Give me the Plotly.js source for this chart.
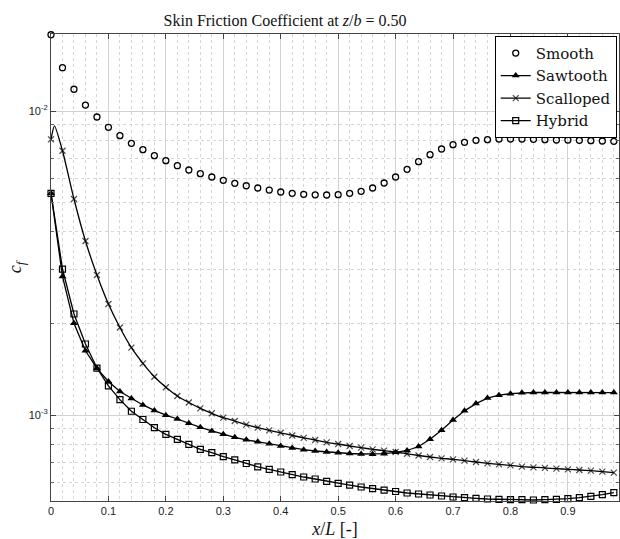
<!DOCTYPE html>
<html>
<head>
<meta charset="utf-8">
<script src="https://cdn.plot.ly/plotly-3.0.1.min.js"></script>
<style>html,body{margin:0;padding:0;background:#fff;}#chart{width:620px;height:539px;}</style>
</head>
<body>
<div id="chart"></div>
<script>
const xPos = [0,0.02,0.04,0.06,0.08,0.1,0.12,0.14,0.16,0.18,0.2,0.22,0.24,0.26,0.28,0.3,0.32,0.34,0.36,0.38,0.4,0.42,0.44,0.46,0.48,0.5,0.52,0.54,0.56,0.58,0.6,0.62,0.64,0.66,0.68,0.7,0.72,0.74,0.76,0.78,0.8,0.82,0.84,0.86,0.88,0.9,0.92,0.94,0.96,0.98];

const smooth = [0.01782,0.01388,0.01179,0.01046,0.009556,0.008840,0.008293,0.007829,0.007460,0.007128,
  0.006863,0.006607,0.006396,0.006219,0.006065,0.005915,0.005782,0.005678,0.005580,0.005496,
  0.005414,0.005361,0.005321,0.005301,0.005293,0.005305,0.005361,0.005443,0.005580,0.005796,
  0.006065,0.006430,0.006811,0.007182,0.007499,0.007747,0.007889,0.008010,0.008046,0.008089,
  0.008089,0.008089,0.008071,0.008046,0.008028,0.008028,0.008010,0.007986,0.007968,0.007950];

const sawtooth = [0.005362,0.002855,0.002003,0.001627,0.001424,0.001289,0.001195,0.001133,0.001079,0.001035,
  0.0009985,0.0009702,0.0009391,0.0009110,0.0008859,0.0008640,0.0008446,0.0008288,0.0008163,0.0008040,
  0.0007907,0.0007788,0.0007689,0.0007614,0.0007556,0.0007510,0.0007471,0.0007443,0.0007431,0.0007460,
  0.0007539,0.0007643,0.0007877,0.0008319,0.0008906,0.0009628,0.001032,0.001090,0.001137,0.001162,
  0.001175,0.001183,0.001186,0.001186,0.001186,0.001186,0.001186,0.001186,0.001186,0.001185];

const hybrid = [0.005362,0.003021,0.002149,0.001712,0.001427,0.001246,0.001123,0.001029,0.0009665,0.0009083,
  0.0008640,0.0008319,0.0008010,0.0007712,0.0007516,0.0007292,0.0007122,0.0006926,0.0006755,0.0006628,
  0.0006494,0.0006362,0.0006252,0.0006158,0.0006052,0.0005961,0.0005876,0.0005796,0.0005722,0.0005657,
  0.0005602,0.0005539,0.0005497,0.0005456,0.0005414,0.0005374,0.0005345,0.0005321,0.0005293,0.0005281,
  0.0005265,0.0005265,0.0005253,0.0005265,0.0005281,0.0005305,0.0005345,0.0005402,0.0005468,0.0005551];

const scallopedX = [0,0.006,0.02,0.04,0.06,0.08,0.1,0.12,0.14,0.16,0.18,0.2,0.22,0.24,0.26,0.28,0.3,0.32,0.34,0.36,0.38,0.4,0.42,0.44,0.46,0.48,0.5,0.52,0.54,0.56,0.58,0.6,0.62,0.64,0.66,0.68,0.7,0.72,0.74,0.76,0.78,0.8,0.82,0.84,0.86,0.88,0.9,0.92,0.94,0.96,0.98];
const scalloped = [0.00807,0.00894,0.00740,0.005135,0.003736,0.002887,0.002318,0.001940,0.001665,0.001479,0.001336,
  0.001234,0.001155,0.001099,0.001052,0.001013,0.0009798,0.0009556,0.0009292,0.0009083,0.0008906,
  0.0008739,0.0008562,0.0008414,0.0008275,0.0008132,0.0008028,0.0007907,0.0007806,0.0007712,0.0007631,
  0.0007556,0.0007454,0.0007358,0.0007275,0.0007204,0.0007149,0.0007074,0.0007005,0.0006936,0.0006884,
  0.0006832,0.0006760,0.0006729,0.0006703,0.0006658,0.0006628,0.0006593,0.0006558,0.0006509,0.0006460];
const scallopedShown = scallopedX.map(v => (v === 0.006 ? 0 : 6));

const seriesNames = ['Smooth','Sawtooth','Scalloped','Hybrid'];
const xTickVals = [0,0.1,0.2,0.3,0.4,0.5,0.6,0.7,0.8,0.9];
const xTickText = ['0','0.1','0.2','0.3','0.4','0.5','0.6','0.7','0.8','0.9'];
const yTickVals = [0.001,0.01];
const yTickText = ['10<sup>-3</sup>','10<sup>-2</sup>'];
const yMinorVals = [0.0006,0.0007,0.0008,0.0009,0.002,0.003,0.004,0.005,0.006,0.007,0.008,0.009];

const serif = "'Liberation Serif', 'Times New Roman', serif";
const legendSerif = "'DejaVu Serif', serif";
const sans = "'Liberation Sans', Arial, sans-serif";

const traces = [
  {x:xPos, y:smooth, name:seriesNames[0], mode:'markers', cliponaxis:false,
   marker:{symbol:'circle-open', size:6, color:'#000', line:{width:1.3,color:'#000'}}},
  {x:xPos, y:sawtooth, name:seriesNames[1], mode:'lines+markers', cliponaxis:false,
   line:{color:'#000', width:1.3},
   marker:{symbol:'triangle-up', size:7, color:'#000'}},
  {x:scallopedX, y:scalloped, name:seriesNames[2], mode:'lines+markers', cliponaxis:false,
   line:{color:'#000', width:1.3, shape:'spline', smoothing:0.6},
   marker:{symbol:'x-thin', size:scallopedShown, color:'#000', line:{width:1.2,color:'#000'}}},
  {x:xPos, y:hybrid, name:seriesNames[3], mode:'lines+markers', cliponaxis:false,
   line:{color:'#000', width:1.3},
   marker:{symbol:'square-open', size:6, color:'#000', line:{width:1.2,color:'#000'}}}
];

const layout = {
  width:620, height:539,
  margin:{l:51, r:1, t:34, b:38},
  paper_bgcolor:'#fff', plot_bgcolor:'#fff',
  showlegend:true,
  title:{text:'Skin Friction Coefficient at <i>z</i>/<i>b</i> = 0.50', x:0.412, xref:'paper', xanchor:'center',
         y:0.963, yref:'container', yanchor:'middle',
         font:{family:serif, size:16, color:'#111'}},
  xaxis:{
    range:[0,0.989], tickmode:'array', tickvals:xTickVals, ticktext:xTickText,
    ticks:'inside', ticklen:5, tickcolor:'#444', showline:true, linecolor:'#444', linewidth:1, mirror:'ticks',
    showgrid:true, gridcolor:'#d2d2d2', gridwidth:1, zeroline:false,
    tickfont:{family:sans, size:11, color:'#222'},
    minor:{dtick:0.02, tick0:0, showgrid:true, gridcolor:'#d6d6d6', griddash:'dot', gridwidth:1, ticks:''},
    title:{text:'<i>x</i>/<i>L</i> [-]', standoff:6, font:{family:serif, size:18, color:'#111'}}
  },
  yaxis:{
    type:'log', range:[-3.2829,-1.7467], tickmode:'array', tickvals:yTickVals, ticktext:yTickText,
    ticks:'inside', ticklen:5, tickcolor:'#444', showline:true, linecolor:'#444', linewidth:1, mirror:'ticks',
    showgrid:true, gridcolor:'#d2d2d2', gridwidth:1, zeroline:false,
    tickfont:{family:sans, size:11, color:'#222'},
    minor:{tickmode:'array', tickvals:yMinorVals, showgrid:true, gridcolor:'#d6d6d6', griddash:'dot', gridwidth:1, ticks:'inside', ticklen:3, tickcolor:'#666'},
    title:{text:'<i>c<sub>f</sub></i>', standoff:2, font:{family:serif, size:18, color:'#111'}}
  },
  legend:{x:0.996, xanchor:'right', y:0.996, yanchor:'top', bgcolor:'#fff', bordercolor:'#000', borderwidth:1,
          font:{family:legendSerif, size:15, color:'#111'}, itemwidth:30, tracegroupgap:0}
};

Plotly.newPlot('chart', traces, layout, {displayModeBar:false, staticPlot:true});
</script>
</body>
</html>
